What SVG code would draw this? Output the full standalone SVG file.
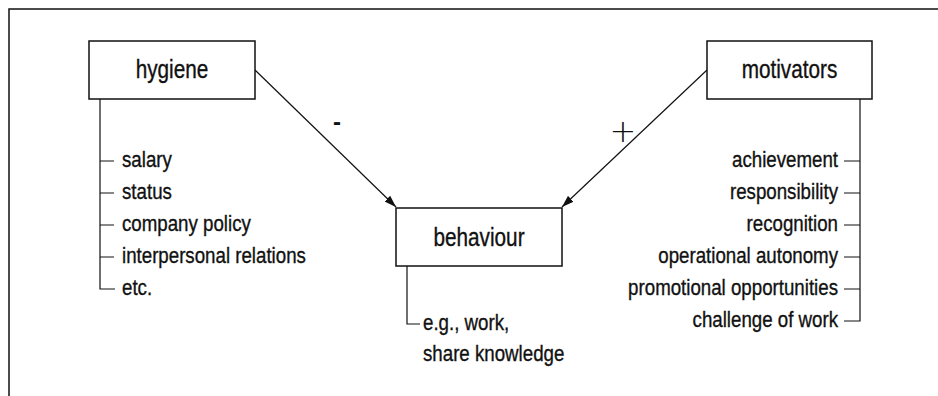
<svg xmlns="http://www.w3.org/2000/svg" width="938" height="396" viewBox="0 0 938 396">
<style>
.frame{fill:none;stroke:#111;stroke-width:1.5}
.box{fill:#fff;stroke:#111;stroke-width:1.5}
.ln{fill:none;stroke:#111;stroke-width:1.2}
.title{font-family:"Liberation Sans",Arial,sans-serif;font-size:25px;fill:#111;stroke:#111;stroke-width:0.35;text-anchor:middle}
.item{font-family:"Liberation Sans",Arial,sans-serif;font-size:22px;fill:#111;stroke:#111;stroke-width:0.35}
.r{text-anchor:end}
.sign{fill:#111;text-anchor:middle}
</style>
<defs>
<marker id="ah" viewBox="0 0 12 8" refX="12" refY="4" markerWidth="12" markerHeight="8" markerUnits="userSpaceOnUse" orient="auto">
<path d="M0,0 L12,4 L0,8 z" fill="#111"/>
</marker>
</defs>
<rect width="938" height="396" fill="#fff"/>
<path class="frame" d="M9,396 V9 H938"/>
<g id="connectors">
<line class="ln" x1="255" y1="70" x2="396" y2="207" marker-end="url(#ah)"/>
<line class="ln" x1="707" y1="70" x2="562" y2="207" marker-end="url(#ah)"/>
<text class="sign" x="337" y="130" font-family="Liberation Sans, sans-serif" font-weight="bold" font-size="24">-</text>
<text class="sign" x="623" y="142" font-family="DejaVu Sans, sans-serif" font-size="32" font-weight="200">+</text>
</g>
<g id="hygiene">
<rect class="box" x="89" y="41" width="166" height="58"/>
<text class="title" transform="translate(172,78) scale(0.83,1)">hygiene</text>
</g>
<g id="hygiene-factors">
<path class="ln" d="M100,99 V289 H115 M100,161 H114 M100,193 H114 M100,225 H114 M100,257 H114"/>
<text class="item" transform="translate(122,167) scale(0.85,1)">salary</text>
<text class="item" transform="translate(122,199) scale(0.85,1)">status</text>
<text class="item" transform="translate(122,231) scale(0.85,1)">company policy</text>
<text class="item" transform="translate(122,263) scale(0.85,1)">interpersonal relations</text>
<text class="item" transform="translate(122,295) scale(0.85,1)">etc.</text>
</g>
<g id="motivators">
<rect class="box" x="707" y="41" width="165" height="58"/>
<text class="title" transform="translate(789.5,78) scale(0.83,1)">motivators</text>
</g>
<g id="motivator-factors">
<path class="ln" d="M860,99 V321 H844 M860,161 H844 M860,193 H844 M860,225 H844 M860,257 H844 M860,289 H844"/>
<text class="item r" transform="translate(838,167) scale(0.85,1)">achievement</text>
<text class="item r" transform="translate(838,199) scale(0.85,1)">responsibility</text>
<text class="item r" transform="translate(838,231) scale(0.85,1)">recognition</text>
<text class="item r" transform="translate(838,263) scale(0.85,1)">operational autonomy</text>
<text class="item r" transform="translate(838,295) scale(0.85,1)">promotional opportunities</text>
<text class="item r" transform="translate(838,327) scale(0.85,1)">challenge of work</text>
</g>
<g id="behaviour">
<rect class="box" x="396" y="208" width="166" height="58"/>
<text class="title" transform="translate(479,246) scale(0.83,1)">behaviour</text>
</g>
<g id="behaviour-examples">
<path class="ln" d="M407,266 V324 H420"/>
<text class="item" transform="translate(423,330) scale(0.85,1)">e.g., work,</text>
<text class="item" transform="translate(423,361) scale(0.85,1)">share knowledge</text>
</g>
</svg>
